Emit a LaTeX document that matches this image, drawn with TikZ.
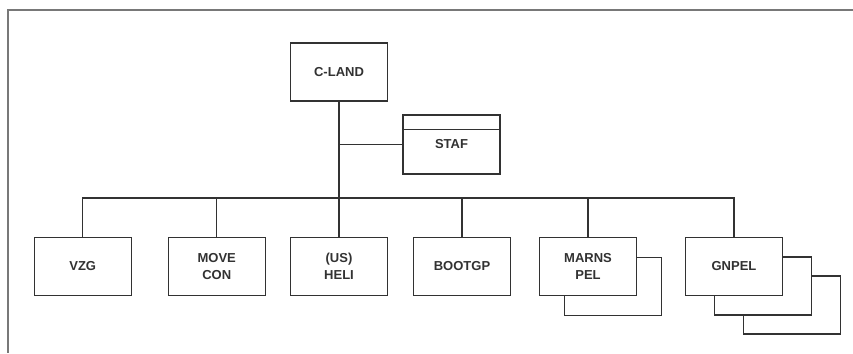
\documentclass[tikz,border=0pt]{standalone}
\usepackage{fontspec}
\setmainfont{Liberation Sans}
\definecolor{ink}{RGB}{50,50,50}
\definecolor{framec}{RGB}{120,120,120}
\begin{document}
\begin{tikzpicture}[x=1pt,y=-1pt,
  box/.style={draw=ink, line width=1.4pt, fill=white, rectangle, minimum width=97pt, minimum height=58pt, inner sep=0pt,
    font=\fontsize{13}{16.5}\selectfont\bfseries, align=center, text=ink},
  shadowbox/.style={draw=ink, line width=1.4pt, fill=white, rectangle, minimum width=97pt, minimum height=58pt, inner sep=0pt},
  link/.style={draw=ink, line width=1.4pt}]
\useasboundingbox (0,0) rectangle (853,353);
\fill[white] (0,0) rectangle (853,353);
% page frame
\draw[framec, line width=1.5pt] (853,10) -- (8,10) -- (8,353);
% top
\node[box] (cland) at (339,72) {C-LAND};
\node[box, minimum height=59pt] (staf) at (451.5,144.5) {STAF};
\draw[link] ([yshift=-15pt]staf.north west) -- ([yshift=-15pt]staf.north east);
% shadows
\node[shadowbox] (marnsB) at (613,286.5) {};
\node[shadowbox] (gnpelC) at (792,305) {};
\node[shadowbox] (gnpelB) at (763,286) {};
% children
\node[box] (vzg) at (82.7,266.5) {VZG};
\node[box] (move) at (216.7,266.5) {MOVE\\CON};
\node[box] (heli) at (339,266.5) {(US)\\HELI};
\node[box] (boot) at (462,266.5) {BOOTGP};
\node[box] (marns) at (588,266.5) {MARNS\\PEL};
\node[box] (gnpel) at (734,266.5) {GNPEL};
% connectors
\coordinate (bus) at (0,198);
\draw[link] (cland.south) -- (heli.north);
\draw[link] (cland.south |- staf.west) -- (staf.west);
\draw[link] (vzg.north) -- (vzg.north |- bus) -- (gnpel.north |- bus) -- (gnpel.north);
\draw[link] (move.north) -- (move.north |- bus);
\draw[link] (boot.north) -- (boot.north |- bus);
\draw[link] (marns.north) -- (marns.north |- bus);
\end{tikzpicture}
\end{document}
